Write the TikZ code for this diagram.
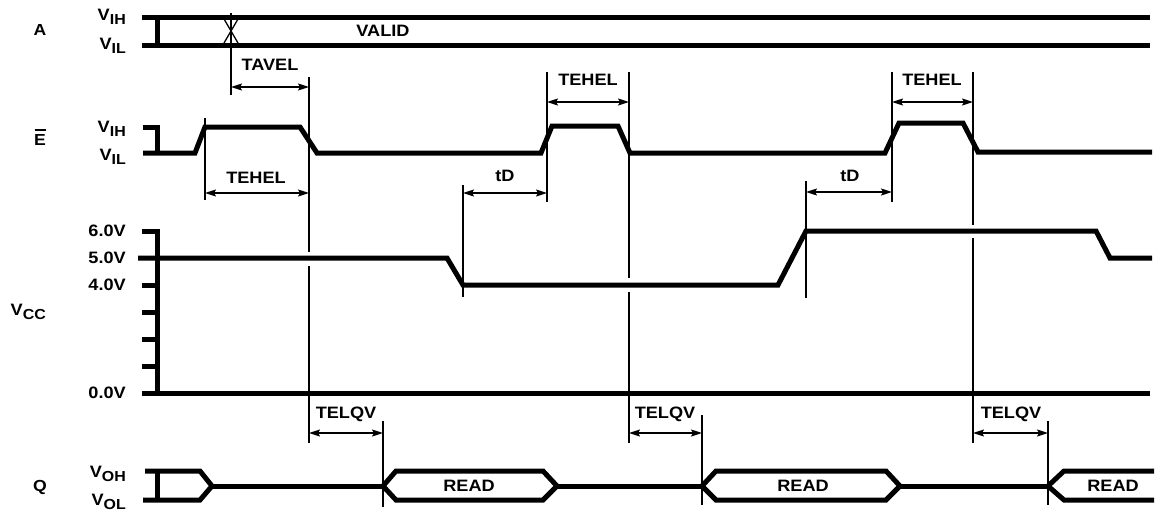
\documentclass[tikz,border=0pt]{standalone}
\usepackage{fontspec}
\setmainfont[FakeStretch=1.1]{Liberation Sans}
\usetikzlibrary{arrows.meta}
\newcommand{\vsub}[2]{#1\raisebox{-4.5pt}{\fontsize{14.5}{14.5}\selectfont #2}}
\begin{document}
\begin{tikzpicture}[x=1pt,y=-1pt,
  sig/.style={line width=5pt},
  tline/.style={line width=1.8pt},
  dim/.style={line width=1.5pt,{Stealth[length=11pt,width=7pt,inset=2pt]}-{Stealth[length=11pt,width=7pt,inset=2pt]}},
  lbl/.style={font=\fontsize{16.5}{16.5}\selectfont\bfseries,inner sep=0pt},
  side/.style={font=\fontsize{16}{16}\selectfont\bfseries,inner sep=0pt},
  vlbl/.style={lbl,anchor=base east}]
\useasboundingbox (0,0) rectangle (1158,514);

% time markers
\coordinate (mA) at (231,0);
\coordinate (m1) at (205,0);
\coordinate (m2) at (309,0);
\coordinate (m3) at (383,0);
\coordinate (m4) at (463,0);
\coordinate (m5) at (547,0);
\coordinate (m6) at (629,0);
\coordinate (m7) at (702,0);
\coordinate (m8) at (806,0);
\coordinate (m9) at (892,0);
\coordinate (m10) at (973,0);
\coordinate (m11) at (1048,0);

% ---------- labels on the left
\node[side] (lA) at (40,30) {A};
\node[vlbl] (lAih) at (126,20) {\vsub{V}{IH}};
\node[vlbl] (lAil) at (126,49) {\vsub{V}{IL}};
\node[side] (lE) at (40,140) {E};
\draw[line width=1.4pt] (34.5,130) -- (45.5,130);
\node[vlbl] (lEih) at (126,132) {\vsub{V}{IH}};
\node[vlbl] (lEil) at (126,160) {\vsub{V}{IL}};
\node[vlbl] (lVcc) at (46,315) {\vsub{V}{CC}};
\node[lbl,anchor=east] (v6) at (126,231) {6.0V};
\node[lbl,anchor=east] (v5) at (126,258) {5.0V};
\node[lbl,anchor=east] (v4) at (126,285) {4.0V};
\node[lbl,anchor=east] (v0) at (126,393) {0.0V};
\node[side] (lQ) at (40,487) {Q};
\node[vlbl] (lQoh) at (126,477) {\vsub{V}{OH}};
\node[vlbl] (lQol) at (126,505) {\vsub{V}{OL}};

% ---------- A
\draw[sig] (142,17) -- (1150,17);
\draw[sig] (142,45) -- (1150,45);
\draw[sig] (157,17) -- (157,45);
\draw[line width=1.3pt] (224,19) -- (238,43) (238,19) -- (224,43);
\node[lbl] (valid) at (383,31) {VALID};

% ---------- E
\draw[sig] (143,127) -- (157,127) -- (157,153);
\draw[sig] (143,153) -- (195,153) -- (205,127) -- (300,127) -- (317,153) -- (541,153)
  -- (552,126) -- (618,126) -- (630,153) -- (885,153) -- (899,123) -- (963,123)
  -- (978,152) -- (1152,152);

% ---------- VCC
\draw[sig] (157,229) -- (157,395);
\foreach \yy in {231,285,312,339,366} \draw[sig] (142,\yy) -- (157,\yy);
\draw[sig] (142,393) -- (1150,393);
\draw[sig] (138,258) -- (447,258) -- (463,285) -- (778,285) -- (806,231)
  -- (1096,231) -- (1110,258) -- (1152,258);

% ---------- Q
\draw[sig] (145,471) -- (200,471) -- (212,486) -- (200,500) -- (143,500);
\draw[sig] (157,471) -- (157,500);
\draw[sig] (212,486) -- (383,486);
\draw[sig] (383,486) -- (396,471) -- (543,471) -- (557,486) -- (543,500) -- (396,500) -- cycle;
\draw[sig] (557,486) -- (702,486);
\draw[sig] (702,486) -- (716,471) -- (886,471) -- (900,486) -- (886,500) -- (716,500) -- cycle;
\draw[sig] (900,486) -- (1048,486);
\draw[sig] (1154,471) -- (1064,471) -- (1048,486) -- (1064,500) -- (1154,500);
\node[lbl] (r1) at (469,486) {READ};
\node[lbl] (r2) at (803,486) {READ};
\node[lbl] (r3) at (1113,486) {READ};

% ---------- thin marker lines
\draw[tline] (mA |- 0,13) -- (mA |- 0,95);
\draw[tline] (m1 |- 0,118) -- (m1 |- 0,200);
\draw[tline] (m2 |- 0,77) -- (m2 |- 0,252);
\draw[tline] (m2 |- 0,266) -- (m2 |- 0,443);
\draw[tline] (m3 |- 0,421) -- (m3 |- 0,507);
\draw[tline] (m4 |- 0,185) -- (m4 |- 0,297);
\draw[tline] (m5 |- 0,72) -- (m5 |- 0,202);
\draw[tline] (m6 |- 0,72) -- (m6 |- 0,278);
\draw[tline] (m6 |- 0,292) -- (m6 |- 0,443);
\draw[tline] (m7 |- 0,415) -- (m7 |- 0,505);
\draw[tline] (m8 |- 0,181) -- (m8 |- 0,298);
\draw[tline] (m9 |- 0,72) -- (m9 |- 0,202);
\draw[tline] (m10 |- 0,72) -- (m10 |- 0,225);
\draw[tline] (m10 |- 0,238) -- (m10 |- 0,443);
\draw[tline] (m11 |- 0,421) -- (m11 |- 0,505);

% ---------- dimension arrows
\draw[dim] (mA |- 0,87) -- (m2 |- 0,87);
\node[lbl] (tavel) at (270,65) {TAVEL};
\draw[dim] (m1 |- 0,193) -- (m2 |- 0,193);
\node[lbl] (tehel1) at (256,178) {TEHEL};
\draw[dim] (m4 |- 0,193) -- (m5 |- 0,193);
\node[lbl] (td1) at (505,176) {tD};
\draw[dim] (m5 |- 0,102) -- (m6 |- 0,102);
\node[lbl] (tehel2) at (588,80) {TEHEL};
\draw[dim] (m8 |- 0,192) -- (m9 |- 0,192);
\node[lbl] (td2) at (850,176) {tD};
\draw[dim] (m9 |- 0,102) -- (m10 |- 0,102);
\node[lbl] (tehel3) at (932,80) {TEHEL};
\draw[dim] (m2 |- 0,433) -- (m3 |- 0,433);
\node[lbl] (telqv1) at (346,414) {TELQV};
\draw[dim] (m6 |- 0,433) -- (m7 |- 0,433);
\node[lbl] (telqv2) at (665,414) {TELQV};
\draw[dim] (m10 |- 0,433) -- (m11 |- 0,433);
\node[lbl] (telqv3) at (1011,414) {TELQV};
\end{tikzpicture}
\end{document}
